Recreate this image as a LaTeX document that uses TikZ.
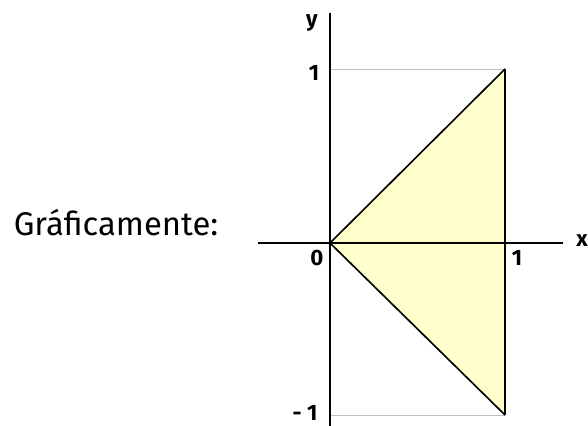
\documentclass[tikz,border=0pt]{standalone}
\usepackage{fontspec}
\setmainfont{Fira Sans}
\usepackage{xcolor}
\usetikzlibrary{positioning}
\definecolor{paleyellow}{RGB}{255, 255, 204}
\definecolor{gridgray}{RGB}{190, 190, 190}

\begin{document}
\begin{tikzpicture}[
    x=0.03cm, y=-0.03cm,
    every node/.style={inner sep=0pt},
    axislabel/.style={font=\fontsize{19}{21}\selectfont\bfseries},
    axisline/.style={line width=1.1pt, color=black},
    guideline/.style={line width=0.7pt, color=gridgray},
    edgeline/.style={line width=1.4pt, color=black}
]
\useasboundingbox (0,0) rectangle (588,426);

% Key points
\coordinate (orig) at (330,243);
\coordinate (topv) at (505,69);
\coordinate (botv) at (505,415);
\coordinate (yaxtop) at (330,13);
\coordinate (yaxbot) at (330,426);
\coordinate (xaxl) at (258,243);
\coordinate (xaxr) at (563,243);
\coordinate (ytick1) at (330,69);
\coordinate (ytickm1) at (330,415);

% Region
\fill[paleyellow] (orig) -- (topv) -- (botv) -- cycle;

% Guides
\draw[guideline] (ytick1) -- (topv);
\draw[guideline] (ytickm1) -- (botv);

% Axes
\draw[axisline] (yaxtop) -- (yaxbot);
\draw[axisline] (xaxl) -- (xaxr);

% Triangle edges
\draw[edgeline] (orig) -- (topv);
\draw[edgeline] (orig) -- (botv);
\draw[edgeline, line width=1.9pt] (topv) -- (botv);

% Labels
\node[font=\fontsize{28}{30}\selectfont] (title) at (116,223) {Gráficamente:};
\node[axislabel] (ylab) at (312,23) {y};
\node[axislabel] (xlab) at (582,241) {x};
\node[axislabel] (one) at (314,73) {1};
\node[axislabel] (mone) at (305,413) {- 1};
\node[axislabel] (zero) at (317,258) {0};
\node[axislabel] (xone) at (517,258) {1};

\end{tikzpicture}
\end{document}
